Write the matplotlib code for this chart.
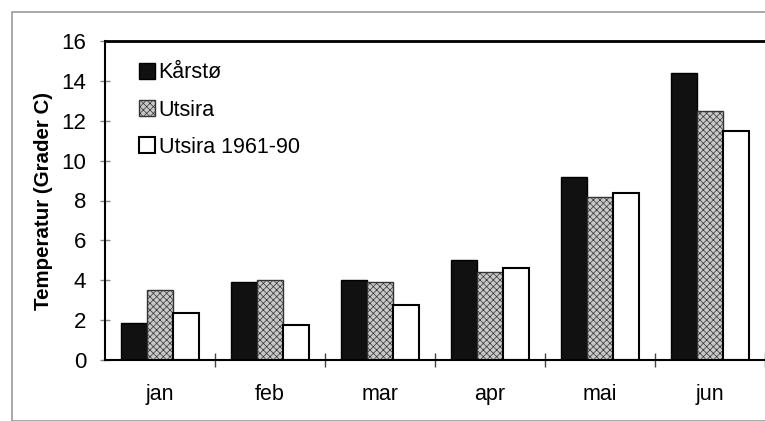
import numpy as np
import matplotlib
matplotlib.use('agg')
import matplotlib.pyplot as plt
from matplotlib.patches import Rectangle

months = ['jan', 'feb', 'mar', 'apr', 'mai', 'jun']
karsto = [1.85, 3.9, 4.0, 5.0, 9.2, 14.4]
utsira = [3.5, 4.0, 3.9, 4.4, 8.2, 12.5]
utsira_norm = [2.35, 1.75, 2.75, 4.6, 8.4, 11.5]

plt.rcParams['font.family'] = ['Liberation Sans', 'DejaVu Sans']
plt.rcParams['hatch.linewidth'] = 0.5

f = plt.figure(figsize=(7.65, 4.21), dpi=100)
f.patches.append(Rectangle((12/765, 0.0), 1.0, 1 - 12/421, transform=f.transFigure,
                           fill=False, edgecolor='#999999', linewidth=1.2))
ax = f.add_axes([105/765, 61/421, 1 - 105/765, 319/421])

x = np.arange(len(months))
w = 0.236
ax.bar(x - w, karsto, w, color='#111111', edgecolor='black', linewidth=1, label='Kårstø')
ax.bar(x, utsira, w, color='#c8c8c8', edgecolor='#333333', hatch='xxxxx', linewidth=1, label='Utsira')
ax.bar(x + w, utsira_norm, w, color='white', edgecolor='black', linewidth=1.5, label='Utsira 1961-90')

ax.set_xlim(-0.5, 5.5)
ax.set_ylim(0, 16)
ax.set_yticks(range(0, 17, 2))
ax.set_xticks(x + 0.5, minor=False)
ax.set_xticklabels([])
ax.set_xticks(x, minor=True)
ax.set_xticklabels(months, minor=True)
ax.tick_params(axis='x', which='major', direction='inout', length=10, width=1, color='#444444')
ax.tick_params(axis='x', which='minor', length=0, pad=17, labelsize=15.5)
ax.tick_params(axis='y', direction='inout', length=7, width=1, color='#888888', labelsize=16, pad=10)
ax.set_ylabel('Temperatur (Grader C)', fontsize=14.8, fontweight='bold', labelpad=6)

for s in ['left', 'bottom']:
    ax.spines[s].set_linewidth(1.5)
ax.spines['top'].set_linewidth(2)
ax.spines['right'].set_visible(False)

ax.legend(loc='upper left', bbox_to_anchor=(0.039, 0.96), frameon=False, fontsize=15.5,
          handlelength=0.75, handleheight=0.75, handletextpad=0.15, labelspacing=0.75, borderaxespad=0)

plt.savefig('out.png')
plt.close()
